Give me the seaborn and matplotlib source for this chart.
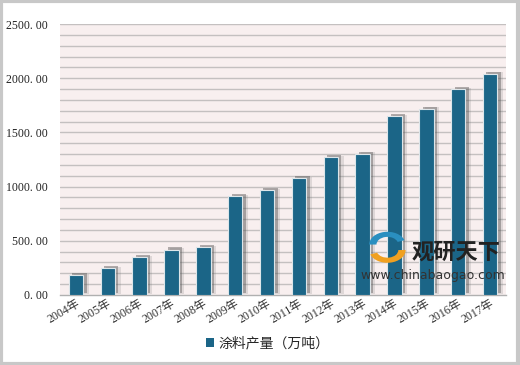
import matplotlib
matplotlib.use("Agg")
import matplotlib.pyplot as plt
import matplotlib.patheffects as pe
from matplotlib.patches import Rectangle, Wedge
import seaborn as sns
import pandas as pd

years = ["2004年", "2005年", "2006年", "2007年", "2008年", "2009年", "2010年",
         "2011年", "2012年", "2013年", "2014年", "2015年", "2016年", "2017年"]
values = [181.0, 249.0, 348.0, 419.0, 439.0, 910.0, 966.63,
          1079.49, 1271.87, 1303.38, 1648.19, 1717.57, 1899.78, 2041.35]
series_name = "涂料产量（万吨）"
yticks = [0, 500, 1000, 1500, 2000, 2500]

df = pd.DataFrame({"year": years, "value": values})

sns.set_theme(style="white")
plt.rcParams["font.family"] = ["Liberation Serif", "Noto Sans CJK SC"]

fig = plt.figure(figsize=(5.2, 3.65), dpi=100)
fig.patch.set_facecolor("white")
ax = fig.add_axes([0.1154, 0.192, 0.8577, 0.742])
ax.set_facecolor("#F8EFEF")

bar_color = "#1B6587"
sns.barplot(data=df, x="year", y="value", color=bar_color, width=0.45,
            saturation=1, ax=ax, zorder=3)
for p in ax.patches:
    p.set_edgecolor("#DDE6EA")
    p.set_linewidth(0.8)
    p.set_path_effects([pe.SimplePatchShadow(offset=(2.5, 1.5), shadow_rgbFace="#444444", alpha=0.4),
                        pe.SimplePatchShadow(offset=(4, 1), shadow_rgbFace="#777777", alpha=0.2),
                        pe.Normal()])

ax.set_ylim(0, 2500)
ax.set_xlim(-0.5, len(years) - 0.5)
for v in range(100, 2501, 100):
    ax.axhline(v, color="#C4C0C0", lw=1.0, zorder=1)
ax.set_yticks(yticks)
ax.set_yticklabels([f"{t:.2f}".replace(".", ". ") for t in yticks], fontsize=8.5,
                   color="#222222")
ax.tick_params(axis="y", length=0, pad=8.5)
ax.tick_params(axis="x", length=0, pad=2)
ax.set_xticks(range(len(years)))
ax.set_xticklabels(years, rotation=30, ha="right", rotation_mode="anchor",
                   fontsize=8.5, color="#333333")
ax.set_xlabel("")
ax.set_ylabel("")
for s in ["top", "right", "left"]:
    ax.spines[s].set_visible(False)
ax.spines["bottom"].set_color("#B0B0B0")
ax.spines["bottom"].set_linewidth(1.0)

# legend
handle = Rectangle((0, 0), 1, 1, facecolor=bar_color, edgecolor="none")
leg = fig.legend([handle], [series_name], loc="center", bbox_to_anchor=(0.515, 0.06),
                 frameon=False, handlelength=0.6, handleheight=0.6,
                 handletextpad=0.3, prop={"family": ["Noto Sans CJK SC"], "size": 10})

# watermark
fig.text(0.878, 0.31, "观研天下", fontsize=16, fontweight="bold", color="#222222",
         family=["Noto Sans CJK SC"], ha="center", va="center", zorder=10)
fig.text(0.832, 0.245, "www.chinabaogao.com", fontsize=9, color="#333333",
         family=["DejaVu Sans"], ha="center", va="center", zorder=10)
fig.add_artist(Wedge((0.745, 0.315), 0.035, 200, 360, width=0.014, transform=fig.transFigure,
                     facecolor="#F0A020", edgecolor="none", zorder=10))
fig.add_artist(Wedge((0.745, 0.33), 0.035, 20, 180, width=0.014, transform=fig.transFigure,
                     facecolor="#2A8FC0", edgecolor="none", zorder=10))

# outer frame
fig.add_artist(Rectangle((0.002, 0.003), 0.995, 0.993, transform=fig.transFigure,
                         fill=False, edgecolor="#C8C8C8", lw=3))

fig.savefig("out.png", dpi=100)
